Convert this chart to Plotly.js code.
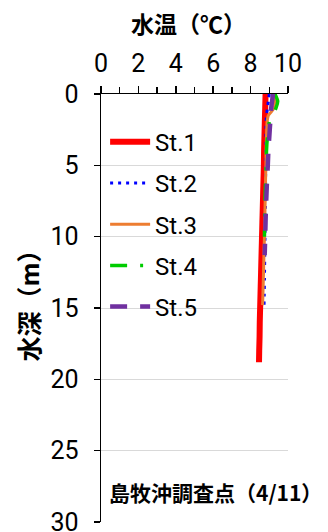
<!DOCTYPE html>
<html><head><meta charset="utf-8">
<script src="https://cdn.plot.ly/plotly-3.0.1.min.js"></script>
<style>html,body{margin:0;padding:0;background:#fff;}#chart{width:328px;height:532px;}</style>
</head><body><div id="chart"></div>
<script>
const stationNames = ["St.1", "St.2", "St.3", "St.4", "St.5"];
const depth1 = [0, 1, 2, 3, 4, 5, 6, 7, 8, 9, 10, 11, 12, 13, 14, 15, 16, 17, 18, 18.8];
const temp1  = [8.8, 8.78, 8.76, 8.74, 8.72, 8.71, 8.69, 8.67, 8.65, 8.63, 8.61, 8.59, 8.57, 8.55, 8.53, 8.51, 8.49, 8.48, 8.46, 8.45];
const depth2 = [0, 0.5, 1, 1.5, 2, 3, 4, 5, 6, 7, 8, 9, 10, 11, 12, 13, 14, 14.8];
const temp2  = [9.0, 8.95, 8.9, 8.85, 8.83, 8.82, 8.82, 8.81, 8.8, 8.8, 8.79, 8.78, 8.77, 8.76, 8.75, 8.74, 8.73, 8.72];
const depth3 = [0, 0.5, 1, 1.5, 2, 3, 4, 5, 6, 7, 8, 9, 10, 11, 12, 13, 14, 14.8];
const temp3  = [9.15, 9.3, 9.25, 8.95, 8.88, 8.85, 8.83, 8.82, 8.8, 8.79, 8.77, 8.76, 8.74, 8.72, 8.7, 8.68, 8.66, 8.64];
const depth4 = [0, 0.5, 1, 1.5, 2, 3, 4, 5, 6, 7, 8, 9, 10];
const temp4  = [9.3, 9.45, 9.35, 9.15, 9.0, 8.9, 8.85, 8.83, 8.8, 8.78, 8.76, 8.75, 8.74];
const depth5 = [0, 0.5, 1, 2, 3, 4, 5, 6, 7, 8, 9, 10, 11, 11.3];
const temp5  = [9.2, 9.15, 9.1, 9.05, 9.0, 8.95, 8.92, 8.88, 8.85, 8.82, 8.8, 8.78, 8.76, 8.75];
const xTicks = [0, 2, 4, 6, 8, 10];
const yTicks = [0, 5, 10, 15, 20, 25, 30];
const xTitle = "水温（℃）";
const yTitle = "水深（m）";
const siteLabel = "島牧沖調査点（4/11）";

const depths = [depth1, depth2, depth3, depth4, depth5];
const temps = [temp1, temp2, temp3, temp4, temp5];
const lineStyles = [
  {color: "#FF0000", width: 6, dash: "solid"},
  {color: "#0000FF", width: 3, dash: "3px,5px"},
  {color: "#ED7D31", width: 3, dash: "solid"},
  {color: "#00CC00", width: 3.5, dash: "17px,13px,3px,13px"},
  {color: "#7030A0", width: 4.5, dash: "17px,13px"}
];
const numFont = "Roboto, 'Liberation Sans', sans-serif";
const jpFont = "'Noto Sans CJK JP', sans-serif";

const traces = stationNames.map((n, i) => ({
  x: temps[i], y: depths[i], name: n, type: "scatter", mode: "lines",
  legendgroup: "g" + i,
  line: Object.assign({shape: "spline", smoothing: 0.6}, lineStyles[i])
}));

const layout = {
  width: 328, height: 532,
  margin: {l: 101, r: 40, t: 94, b: 10},
  paper_bgcolor: "#fff", plot_bgcolor: "#fff",
  showlegend: true,
  legend: {x: 0.022, y: 0.94, xanchor: "left", yanchor: "top", bgcolor: "rgba(0,0,0,0)",
           font: {family: numFont, size: 24, color: "#000"}, tracegroupgap: 7,
           traceorder: "grouped", itemwidth: 40},
  xaxis: {range: [0, 10], side: "top", tickvals: xTicks, ticks: "outside", ticklen: 7, tickwidth: 1.5,
          tickcolor: "#000", showline: true, linecolor: "#000", linewidth: 1.5, showgrid: false,
          zeroline: false, ticklabelstandoff: 4, ticklabeloverflow: "allow",
          minor: {dtick: 1, ticks: "outside", ticklen: 6, tickcolor: "#000", tickwidth: 1.5, showgrid: false},
          tickfont: {family: numFont, size: 25, color: "#000"}, fixedrange: true},
  yaxis: {range: [30, 0], tickvals: yTicks, ticks: "outside", ticklen: 6, tickwidth: 1.5, tickcolor: "#000",
          showline: true, linecolor: "#000", linewidth: 1.5, showgrid: true, gridcolor: "#d9d9d9",
          gridwidth: 1, zeroline: false, ticklabelstandoff: 10, ticklabeloverflow: "allow",
          tickfont: {family: numFont, size: 25, color: "#000"}, fixedrange: true},
  annotations: [
    {text: "<b>" + xTitle + "</b>", xref: "paper", yref: "paper", x: 0.47, y: 1.165,
     xanchor: "center", yanchor: "middle", showarrow: false, font: {family: jpFont, size: 23, color: "#000"}},
    {text: "<b>" + yTitle + "</b>", xref: "paper", yref: "paper", x: -0.39, y: 0.52, textangle: -90,
     xanchor: "center", yanchor: "middle", showarrow: false, font: {family: jpFont, size: 25, color: "#000"}},
    {text: "<b>" + siteLabel + "</b>", xref: "paper", yref: "paper", x: 0.03, y: 0.07,
     xanchor: "left", yanchor: "middle", showarrow: false, font: {family: jpFont, size: 21, color: "#000"}}
  ]
};
Plotly.newPlot("chart", traces, layout, {displayModeBar: false, staticPlot: true});
</script></body></html>
